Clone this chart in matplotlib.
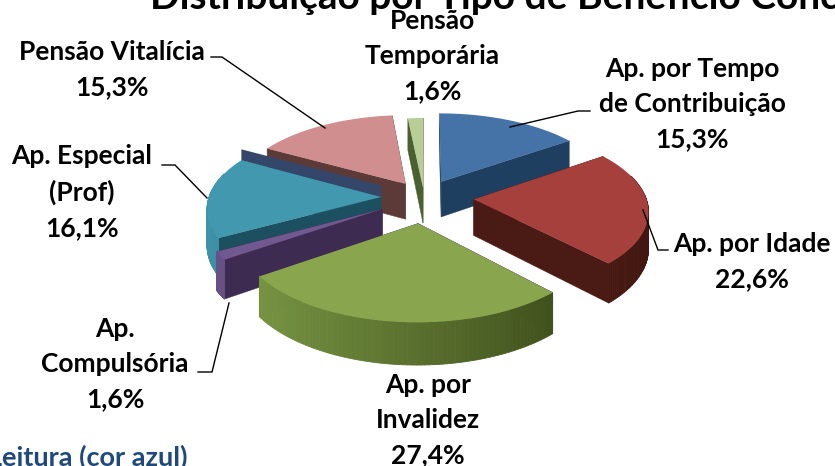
import matplotlib
matplotlib.use("Agg")
import matplotlib.pyplot as plt
from matplotlib.colors import to_rgb
from matplotlib.patches import Polygon
import numpy as np

plt.rcParams["font.family"] = ["Lato", "DejaVu Sans"]

# Slices, clockwise from the top
LABELS = ["Ap. por Tempo\nde Contribuição", "Ap. por Idade", "Ap. por\nInvalidez",
          "Ap.\nCompulsória", "Ap. Especial\n(Prof)", "Pensão Vitalícia", "Pensão\nTemporária"]
VALUES = [15.3, 22.6, 27.4, 1.6, 16.1, 15.3, 1.6]
EXPLODE = [0.22, 0.29, 0.32, 0.28, 0.25, 0.20, 0.12]
TOP_COLORS = ["#4572a7", "#a5403d", "#89a54e", "#71588f", "#4198af", "#d08f8e", "#b9cd96"]
FACE_COLORS = ["#1f3f60", "#4a1a14", "#3e2b52", "#3e2b52", "#1c5060", "#5c3a38", "#4a6030"]
RIM_LEFT = ["#2a527a", "#5c2019", "#7d9c46", "#6a5388", "#3f93aa", "#5c3a38", "#4a6030"]
RIM_RIGHT = ["#1f3f60", "#421710", "#364416", "#3e2b52", "#1c5060", "#5c3a38", "#4a6030"]

LABEL_XY = [(692, 104), (752, 262), (428, 420), (115, 364), (82, 192), (112, 70), (432, 56)]
LEADERS = [[(510, 127), (578, 111), (590, 111)],
           [(643, 210), (658, 250), (668, 250)],
           [(229, 303), (212, 372), (198, 372)],
           [(207, 198), (175, 165), (162, 165)],
           [(325, 128), (222, 57), (211, 57)]]

CX, CY = 424, 197
R, H, DEPTH, PERSP = 172, 80, 36, 0.12


def project(u, v, z=0.0):
    s = 1 / (1 + PERSP * v)
    return CX + R * u * s, CY - H * v * s + DEPTH * z * s


def blend(c1, c2, t):
    a, b = np.array(to_rgb(c1)), np.array(to_rgb(c2))
    return tuple(a + (b - a) * t)


fig = plt.figure(figsize=(8.35, 4.66), dpi=100)
ax = fig.add_axes([0, 0, 1, 1])
ax.set_xlim(0, 835)
ax.set_ylim(466, 0)
ax.axis("off")

ax.text(150, 9, "Distribuição por Tipo de Benefício Concedido", fontsize=28, fontweight="bold",
        ha="left", va="baseline", color="black", zorder=1)
ax.text(188, 466, "Leitura (cor azul)", fontsize=19.5, fontweight="bold", ha="right",
        va="baseline", color="#1f497d", zorder=1)

edges = np.cumsum([0] + VALUES) / sum(VALUES) * 2 * np.pi
mids = (edges[:-1] + edges[1:]) / 2

# back to front
order = sorted(range(len(VALUES)), key=lambda i: EXPLODE[i] * np.cos(mids[i]), reverse=True)
order.remove(3)
order.insert(order.index(4) + 1, 3)

z = 2
for i in order:
    a0, a1 = edges[i], edges[i + 1]
    ou = EXPLODE[i] * np.sin(mids[i])
    ov = EXPLODE[i] * np.cos(mids[i])
    th = np.linspace(a0, a1, 80)
    us = ou + np.sin(th)
    vs = ov + np.cos(th)

    # the stray dark strip above the teal slice
    if i == 4:
        strip = [project(ou, ov), project(us[-1], vs[-1]),
                 project(us[-1], vs[-1], -0.32), project(ou, ov, -0.32)]
        ax.add_patch(Polygon(strip, closed=True, fc="#34466a", ec="none", zorder=z))
        z += 1

    # cut faces
    for k in (0, -1):
        face = [project(ou, ov), project(us[k], vs[k]),
                project(us[k], vs[k], 1), project(ou, ov, 1)]
        ax.add_patch(Polygon(face, closed=True, fc=FACE_COLORS[i], ec=FACE_COLORS[i], lw=0.3, zorder=z))
    z += 1

    # rim, shaded along the arc
    for k in range(len(th) - 1):
        if vs[k] + vs[k + 1] > 2 * ov + 0.6:
            continue
        quad = [project(us[k], vs[k]), project(us[k + 1], vs[k + 1]),
                project(us[k + 1], vs[k + 1], 1), project(us[k], vs[k], 1)]
        t = (np.sin(th[k]) + 1) / 2
        c = blend(RIM_LEFT[i], RIM_RIGHT[i], t)
        ax.add_patch(Polygon(quad, closed=True, fc=c, ec=c, lw=0.6, zorder=z))
    z += 1

    top = [project(ou, ov)] + [project(a, b) for a, b in zip(us, vs)]
    ax.add_patch(Polygon(top, closed=True, fc=TOP_COLORS[i], ec="none", zorder=z))
    z += 1

for pts in LEADERS:
    xs, ys = zip(*pts)
    ax.plot(xs, ys, color="black", lw=1.0, zorder=z)
z += 1

for lab, val, (x, y) in zip(LABELS, VALUES, LABEL_XY):
    txt = lab + "\n" + f"{val:.1f}%".replace(".", ",")
    ax.text(x, y, txt, ha="center", va="center", fontsize=19, fontweight="bold",
            linespacing=1.55, color="black", zorder=z)

fig.savefig("out.png", dpi=100)
